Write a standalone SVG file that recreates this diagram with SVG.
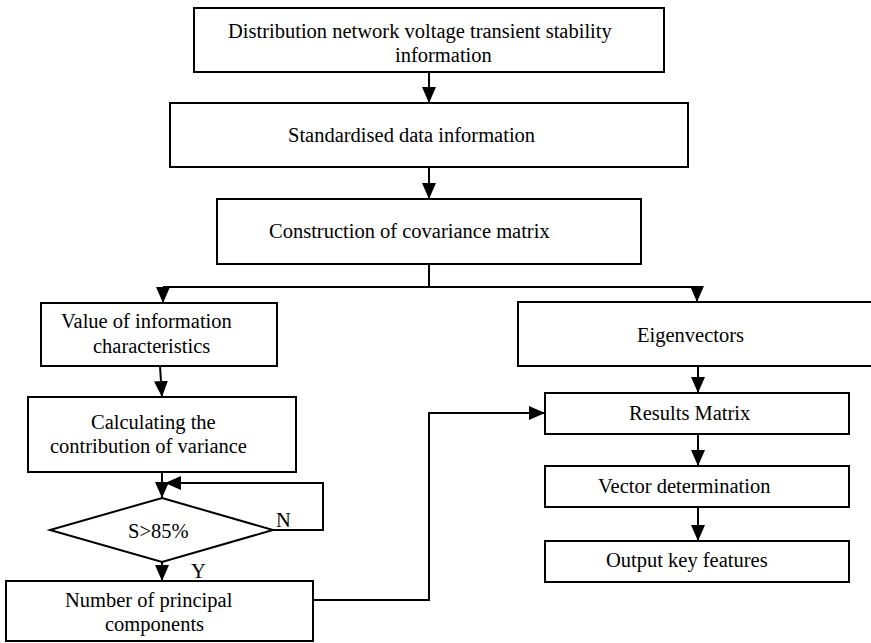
<svg xmlns="http://www.w3.org/2000/svg" width="871" height="643" viewBox="0 0 871 643">
<style>
.box{fill:#fff;stroke:#000;stroke-width:2}
.t{font-family:"Liberation Serif","Times New Roman",serif;font-size:20.5px;fill:#000}
.c{fill:none;stroke:#000;stroke-width:2}
</style>
<defs>
<marker id="ah" markerUnits="userSpaceOnUse" markerWidth="16" markerHeight="14" refX="16" refY="7" orient="auto">
<path d="M0,0 L16,7 L0,14 Z" fill="#000"/>
</marker>
</defs>
<rect width="871" height="643" fill="#fff"/>
<g id="connectors">
<path class="c" d="M429,72 V103" marker-end="url(#ah)"/>
<path class="c" d="M429,167 V199" marker-end="url(#ah)"/>
<path class="c" d="M429,264 V287"/>
<path class="c" d="M163,287 H697"/>
<path class="c" d="M163,287 V303" marker-end="url(#ah)"/>
<path class="c" d="M697,287 V302" marker-end="url(#ah)"/>
<path class="c" d="M160,366 L162,397" marker-end="url(#ah)"/>
<path class="c" d="M162,472 V498" marker-end="url(#ah)"/>
<path class="c" d="M273,530 H323 V483 H165" marker-end="url(#ah)"/>
<path class="c" d="M162,562 V581" marker-end="url(#ah)"/>
<path class="c" d="M313,600 H429 V413 H545" marker-end="url(#ah)"/>
<path class="c" d="M698,366 V393" marker-end="url(#ah)"/>
<path class="c" d="M698,434 V466" marker-end="url(#ah)"/>
<path class="c" d="M698,507 V541" marker-end="url(#ah)"/>
</g>
<g id="n_info">
<rect class="box" x="194" y="8" width="470" height="64"/>
<text class="t" x="228" y="38">Distribution network voltage transient stability</text>
<text class="t" x="395" y="62">information</text>
</g>
<g id="n_std">
<rect class="box" x="170" y="103" width="518" height="64"/>
<text class="t" x="288" y="142">Standardised data information</text>
</g>
<g id="n_cov">
<rect class="box" x="217" y="199" width="424" height="65"/>
<text class="t" x="269" y="238">Construction of covariance matrix</text>
</g>
<g id="n_value">
<rect class="box" x="41" y="303" width="236" height="63"/>
<text class="t" x="61" y="328">Value of information</text>
<text class="t" x="93" y="353">characteristics</text>
</g>
<g id="n_calc">
<rect class="box" x="28" y="397" width="268" height="75"/>
<text class="t" x="91" y="429">Calculating the</text>
<text class="t" x="50" y="453">contribution of variance</text>
</g>
<g id="n_decision">
<polygon class="box" points="162,498 273,530 162,562 50,530"/>
<text class="t" x="128" y="538">S&gt;85%</text>
<text class="t" x="276" y="527">N</text>
<text class="t" x="191" y="578">Y</text>
</g>
<g id="n_num">
<rect class="box" x="6" y="581" width="307" height="60"/>
<text class="t" x="65" y="607">Number of principal</text>
<text class="t" x="105" y="631">components</text>
</g>
<g id="n_eigen">
<rect class="box" x="518" y="302" width="360" height="64"/>
<text class="t" x="637" y="342">Eigenvectors</text>
</g>
<g id="n_results">
<rect class="box" x="545" y="393" width="304" height="41"/>
<text class="t" x="629" y="420">Results Matrix</text>
</g>
<g id="n_vector">
<rect class="box" x="545" y="466" width="304" height="41"/>
<text class="t" x="598" y="493">Vector determination</text>
</g>
<g id="n_output">
<rect class="box" x="545" y="541" width="304" height="41"/>
<text class="t" x="606" y="567">Output key features</text>
</g>
</svg>
